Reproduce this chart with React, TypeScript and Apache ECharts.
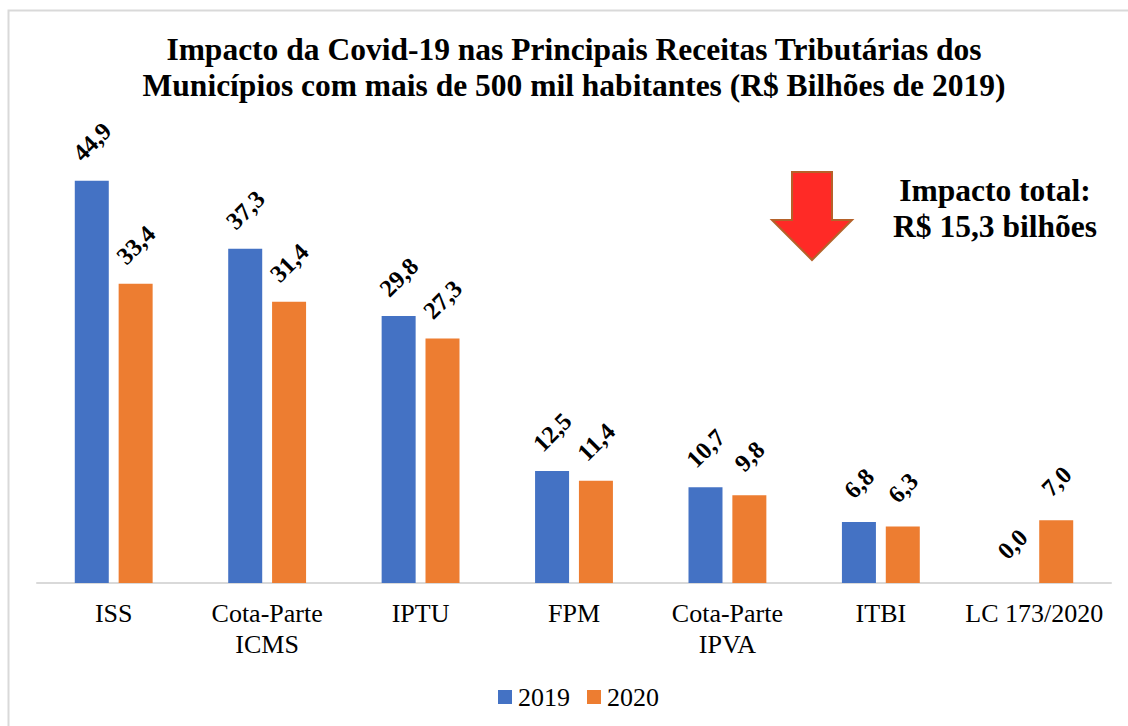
import React, { useEffect, useRef } from "react";
import * as echarts from "echarts";

const categories = ["ISS", "Cota-Parte\nICMS", "IPTU", "FPM", "Cota-Parte\nIPVA", "ITBI", "LC 173/2020"];
const values2019 = [44.9, 37.3, 29.8, 12.5, 10.7, 6.8, 0.0];
const values2020 = [33.4, 31.4, 27.3, 11.4, 9.8, 6.3, 7.0];
const titleLines = [
  "Impacto da Covid-19 nas Principais Receitas Tributárias dos",
  "Municípios com mais de 500 mil habitantes (R$ Bilhões de 2019)",
];
const impactLines = ["Impacto total:", "R$ 15,3 bilhões"];
const FONT = '"Liberation Serif", serif';

const fmt = (p: any) => Number(p.value).toFixed(1).replace(".", ",");

const labelStyle = {
  show: true,
  position: "top",
  distance: 39,
  rotate: 45,
  align: "center",
  verticalAlign: "middle",
  formatter: fmt,
  fontFamily: FONT,
  fontWeight: "bold",
  fontSize: 24.5,
  color: "#000",
};

export default function App() {
  const ref = useRef<HTMLDivElement>(null);
  useEffect(() => {
    const chart = echarts.init(ref.current!, null, { renderer: "svg" });
    chart.setOption({
      animation: false,
      backgroundColor: "#fff",
      textStyle: { fontFamily: FONT },
      title: {
        text: titleLines.join("\n"),
        left: 569,
        top: 26,
        textAlign: "center",
        textStyle: { fontFamily: FONT, fontWeight: "bold", fontSize: 31.5, lineHeight: 36, color: "#000" },
      },
      legend: {
        left: 493,
        top: 679,
        itemWidth: 14,
        itemHeight: 14,
        itemGap: 17,
        icon: "rect",
        textStyle: { fontFamily: FONT, fontSize: 26, color: "#000", padding: [0, 0, 0, 1] },
      },
      grid: { left: 37, right: 17, top: 135, bottom: 143 },
      xAxis: {
        type: "category",
        data: categories,
        axisTick: { show: false },
        axisLine: { lineStyle: { color: "#d9d9d9", width: 2 } },
        axisLabel: {
          interval: 0,
          margin: 15,
          fontFamily: FONT,
          fontSize: 26,
          lineHeight: 31,
          color: "#000",
        },
      },
      yAxis: { type: "value", min: 0, max: 50, show: false, splitLine: { show: false } },
      series: [
        { name: "2019", type: "bar", data: values2019, barWidth: 34, barGap: "29%", itemStyle: { color: "#4472c4" }, label: labelStyle },
        { name: "2020", type: "bar", data: values2020, barWidth: 34, itemStyle: { color: "#ed7d31" }, label: labelStyle },
      ],
      graphic: [
        {
          type: "rect",
          silent: true,
          z: -1,
          shape: { x: 8.5, y: 10.5, width: 1140, height: 740 },
          style: { fill: "none", stroke: "#d9d9d9", lineWidth: 2 },
        },
        {
          type: "polygon",
          shape: {
            points: [[792, 172], [832, 172], [832, 220], [852, 220], [812, 260], [772, 220], [792, 220]],
          },
          style: { fill: "#ff2a26", stroke: "#b5622a", lineWidth: 2 },
        },
        {
          type: "text",
          x: 995,
          y: 172,
          style: {
            text: impactLines.join("\n"),
            align: "center",
            verticalAlign: "top",
            fontFamily: FONT,
            fontWeight: "bold",
            fontSize: 31.5,
            lineHeight: 36,
            fill: "#000",
          },
        },
      ],
    });
    return () => chart.dispose();
  }, []);
  return <div ref={ref} style={{ position: "absolute", left: 0, top: 0, width: 1128, height: 726 }} />;
}
